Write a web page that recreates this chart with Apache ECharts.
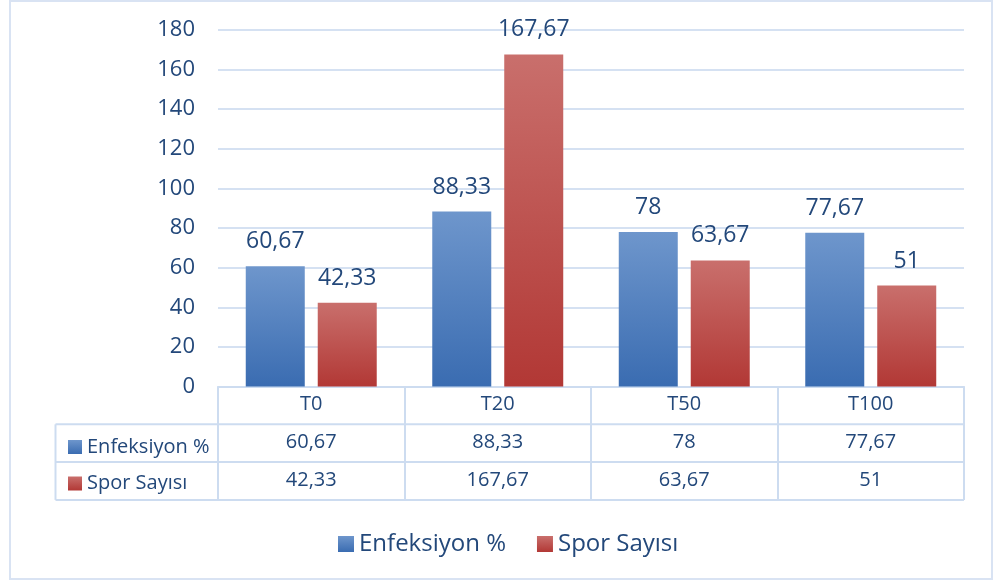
<!DOCTYPE html>
<html>
<head>
<meta charset="utf-8">
<script src="https://cdn.jsdelivr.net/npm/echarts@6/dist/echarts.min.js"></script>
<style>
html,body{margin:0;padding:0;background:#fff;}
#c{width:994px;height:581px;}
</style>
</head>
<body>
<div id="c"></div>
<script>
const categories = ['T0', 'T20', 'T50', 'T100'];
const seriesNames = ['Enfeksiyon %', 'Spor Sayısı'];
const enfeksiyon = [60.67, 88.33, 78, 77.67];
const sporSayisi = [42.33, 167.67, 63.67, 51];
const yMin = 0, yMax = 180, yStep = 20;

const FONT = 'Open Sans';
const TXT = '#23487a';
const GRIDC = '#d5e1f2';
const TABLEC = '#cddcf0';
const fmt = v => String(v).replace('.', ',');

const blueGrad = new echarts.graphic.LinearGradient(0, 0, 0, 1, [
  {offset: 0, color: '#6e96cc'}, {offset: 1, color: '#3a6cb1'}
]);
const redGrad = new echarts.graphic.LinearGradient(0, 0, 0, 1, [
  {offset: 0, color: '#c96f6c'}, {offset: 1, color: '#b23835'}
]);

const chart = echarts.init(document.getElementById('c'), null, {renderer: 'canvas'});

const tableRows = [enfeksiyon, sporSayisi];
const gridLeft = 218, gridRight = 964, gridTop = 30, axisY = 386.5;
const rowH = 37.8;

const option = {
  animation: false,
  textStyle: {fontFamily: FONT},
  grid: {left: gridLeft, right: 994 - gridRight, top: gridTop, bottom: 581 - axisY},
  legend: [
    {
      data: seriesNames, left: 333, top: 527, itemWidth: 16, itemHeight: 16, itemGap: 31,
      icon: 'rect', selectedMode: false,
      textStyle: {fontFamily: FONT, fontSize: 24, color: TXT}
    },
    {
      data: seriesNames, orient: 'vertical', left: 63, top: 432, itemWidth: 14, itemHeight: 14,
      itemGap: 16.5, icon: 'rect', selectedMode: false,
      textStyle: {fontFamily: FONT, fontSize: 20, color: TXT}
    }
  ],
  xAxis: [
    {
      type: 'category', data: categories, position: 'bottom',
      axisLine: {lineStyle: {color: TABLEC, width: 2}},
      axisTick: {show: true, length: rowH * 3, interval: 0, lineStyle: {color: TABLEC, width: 2}},
      axisLabel: {fontFamily: FONT, fontSize: 20, color: TXT, margin: 8}
    },
    ...tableRows.map((row, i) => ({
      type: 'category', data: categories, position: 'bottom', offset: rowH * (i + 1),
      axisLine: {show: false}, axisTick: {show: false},
      axisLabel: {fontFamily: FONT, fontSize: 20, color: TXT, margin: 8,
        formatter: (v, idx) => fmt(row[idx])}
    }))
  ],
  yAxis: {
    type: 'value', min: yMin, max: yMax, interval: yStep,
    axisLine: {show: false}, axisTick: {show: false},
    axisLabel: {fontFamily: FONT, fontSize: 22, color: TXT, margin: 23},
    splitLine: {lineStyle: {color: GRIDC, width: 2}}
  },
  series: [
    {
      name: seriesNames[0], type: 'bar', data: enfeksiyon, barWidth: 59, barGap: '22%',
      itemStyle: {color: blueGrad},
      label: {show: true, position: 'top', distance: 13, fontFamily: FONT, fontSize: 23, color: TXT,
        formatter: p => fmt(p.value)}
    },
    {
      name: seriesNames[1], type: 'bar', data: sporSayisi, barWidth: 59, barGap: '22%',
      itemStyle: {color: redGrad},
      label: {show: true, position: 'top', distance: 13, fontFamily: FONT, fontSize: 23, color: TXT,
        formatter: p => fmt(p.value)}
    }
  ],
  graphic: [
    {type: 'rect', shape: {x: 10, y: 1, width: 982, height: 578},
      style: {fill: 'none', stroke: '#d9e3f3', lineWidth: 2}, silent: true},
    ...[1, 2, 3].map(k => ({type: 'line', silent: true,
      shape: {x1: 55.5, y1: axisY + rowH * k, x2: gridRight, y2: axisY + rowH * k},
      style: {stroke: TABLEC, lineWidth: 2}})),
    {type: 'line', silent: true,
      shape: {x1: 55.5, y1: axisY + rowH, x2: 55.5, y2: axisY + rowH * 3},
      style: {stroke: TABLEC, lineWidth: 2}}
  ]
};
chart.setOption(option);
</script>
</body>
</html>
